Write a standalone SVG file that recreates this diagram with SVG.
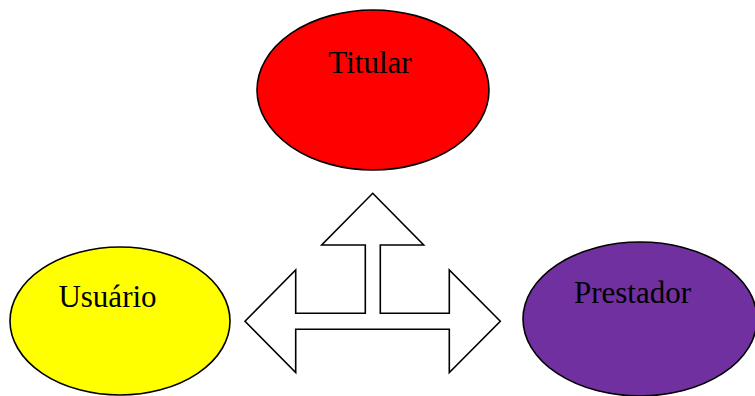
<svg xmlns="http://www.w3.org/2000/svg" width="755" height="396" viewBox="0 0 755 396">
<style>
.node{stroke:#000;stroke-width:1.6}
.lbl{font-family:"Liberation Serif","Times New Roman",serif;font-size:31px;fill:#000}
.arrow{fill:#fff;stroke:#000;stroke-width:1.6;stroke-linejoin:miter}
</style>
<rect width="755" height="396" fill="#fff"/>
<g id="titular">
<ellipse class="node" cx="373" cy="90" rx="116" ry="80" fill="#ff0000"/>
<text class="lbl" x="370" y="73" text-anchor="middle">Titular</text>
</g>
<g id="usuario">
<ellipse class="node" cx="120" cy="321" rx="110" ry="74" fill="#ffff00"/>
<text class="lbl" x="107.5" y="307" text-anchor="middle">Usuário</text>
</g>
<g id="prestador">
<ellipse class="node" cx="640" cy="319" rx="117" ry="77" fill="#7030a0"/>
<text class="lbl" x="632.5" y="303" text-anchor="middle">Prestador</text>
</g>
<g id="connectors">
<path class="arrow" d="M372.7,193.3 L423.7,245 L380.3,245 L380.3,313.3 L449.3,313.3 L449.3,270 L500.3,321.3 L449.3,372.6 L449.3,329.3 L295.7,329.3 L295.7,372.6 L245,321.3 L295.7,270 L295.7,313.3 L365.3,313.3 L365.3,245 L321.7,245 Z"/>
</g>
</svg>
